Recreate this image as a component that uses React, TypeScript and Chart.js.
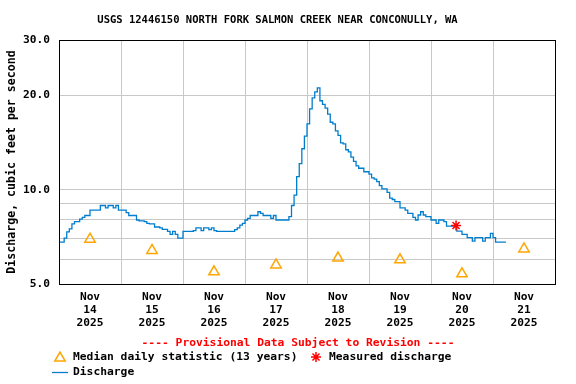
import React, { useEffect, useRef } from 'react';
import { Chart, registerables } from 'chart.js';

Chart.register(...registerables);

// ---- text ----
const titleText = 'USGS 12446150 NORTH FORK SALMON CREEK NEAR CONCONULLY, WA';
const yAxisTitle = 'Discharge, cubic feet per second';
const provisionalText = '---- Provisional Data Subject to Revision ----';
const medianLabel = 'Median daily statistic (13 years)';
const measuredLabel = 'Measured discharge';
const dischargeLabel = 'Discharge';

// ---- axes ----
const monthLabel = 'Nov';
const yearLabel = '2025';
const dayLabels = ['14', '15', '16', '17', '18', '19', '20', '21'];
const xTickHours = [0, 12, 24, 36, 48, 60, 72, 84, 96, 108, 120, 132, 144, 156, 168, 180, 192];
const yTickValues = [5, 6, 7, 8, 9, 10, 20, 30];
const yLabeledValues = [5, 10, 20, 30];

// ---- data (hours since Nov 14 2025 00:00) ----
// hourly discharge, cfs, starting at hour 0
const dischargeCfs = [
  6.6, 6.8, 6.8, 7.0, 7.33, 7.5, 7.77, 7.9, 7.9, 8.05, 8.15, 8.27,
  8.27, 8.6, 8.6, 8.6, 8.6, 8.9, 8.9, 8.75, 8.9, 8.9, 8.75, 8.9,
  8.6, 8.6, 8.6, 8.45, 8.27, 8.27, 8.27, 8.0, 7.95, 7.95, 7.9, 7.8,
  7.77, 7.77, 7.6, 7.6, 7.55, 7.47, 7.47, 7.36, 7.2, 7.36, 7.2, 7.0,
  7.0, 7.36, 7.36, 7.36, 7.36, 7.4, 7.55, 7.55, 7.4, 7.55, 7.55, 7.45,
  7.55, 7.4, 7.36, 7.36, 7.36, 7.36, 7.36, 7.36, 7.36, 7.45, 7.55, 7.7,
  7.8, 8.0, 8.1, 8.27, 8.27, 8.27, 8.5, 8.4, 8.27, 8.27, 8.27, 8.1,
  8.27, 8.0, 8.0, 8.0, 8.0, 8.0, 8.2, 8.9, 9.6, 11.0, 12.1, 13.5,
  14.8, 16.2, 18.1, 19.6, 20.5, 21.1, 19.2, 18.7, 18.2, 17.4, 16.4, 16.2,
  15.4, 14.9, 14.1, 14.0, 13.4, 13.2, 12.7, 12.3, 11.9, 11.7, 11.7, 11.4,
  11.4, 11.2, 10.9, 10.8, 10.6, 10.3, 10.05, 10.05, 9.8, 9.4, 9.3, 9.15,
  9.15, 8.75, 8.75, 8.6, 8.4, 8.4, 8.15, 8.0, 8.3, 8.5, 8.3, 8.2,
  8.2, 8.0, 8.0, 7.8, 8.0, 8.0, 7.9, 7.65, 7.65, 7.65, 7.65, 7.37,
  7.37, 7.2, 7.2, 7.03, 7.03, 6.85, 7.03, 7.03, 7.03, 6.85, 7.03, 7.03,
  7.25, 7.03, 6.8, 6.8, 6.8, 6.8,
];
const medianHours = [12, 36, 60, 84, 108, 132, 156, 180];
const medianCfs = [6.95, 6.4, 5.47, 5.75, 6.05, 5.97, 5.39, 6.47];
const measuredHours = [153.7];
const measuredCfs = [7.68];

// ---- styles ----
const MONO = '"DejaVu Sans Mono", "Liberation Mono", monospace';
const GRID = '#C8C8C8';
const BLUE = 'rgb(0,125,205)';
const ORANGE = '#FFA500';
const RED = '#FF0000';

function drawTriangle(ctx: CanvasRenderingContext2D, x: number, y: number, r: number) {
  ctx.beginPath();
  ctx.moveTo(x, y - r);
  ctx.lineTo(x + r * 0.866, y + r * 0.5);
  ctx.lineTo(x - r * 0.866, y + r * 0.5);
  ctx.closePath();
  ctx.stroke();
}

function drawStar(ctx: CanvasRenderingContext2D, x: number, y: number, r: number) {
  ctx.beginPath();
  for (let i = 0; i < 4; i++) {
    const a = (i * Math.PI) / 4;
    ctx.moveTo(x - Math.cos(a) * r, y - Math.sin(a) * r);
    ctx.lineTo(x + Math.cos(a) * r, y + Math.sin(a) * r);
  }
  ctx.stroke();
}

export default function App() {
  const ref = useRef<HTMLCanvasElement>(null);

  useEffect(() => {
    const canvas = ref.current;
    if (!canvas) return;

    const framePlugin = {
      id: 'frameAndLegend',
      afterDatasetsDraw(chart: any) {
        const { ctx, chartArea } = chart;
        const l = Math.round(chartArea.left);
        const t = Math.round(chartArea.top);
        const r = Math.round(chartArea.right);
        const b = Math.round(chartArea.bottom);
        ctx.save();
        ctx.strokeStyle = '#000';
        ctx.lineWidth = 1;
        ctx.strokeRect(l + 0.5, t + 0.5, r - l, b - t);
        ctx.restore();
      },
      afterDraw(chart: any) {
        const { ctx } = chart;
        ctx.save();
        ctx.font = `bold 11.3px ${MONO}`;
        ctx.textBaseline = 'middle';
        ctx.textAlign = 'center';
        ctx.fillStyle = RED;
        ctx.fillText(provisionalText, 298, 343);

        ctx.textAlign = 'left';
        ctx.fillStyle = '#000';
        ctx.fillText(medianLabel, 73, 357);
        ctx.fillText(measuredLabel, 329, 357);
        ctx.fillText(dischargeLabel, 73, 372.5);

        ctx.lineWidth = 1.5;
        ctx.strokeStyle = ORANGE;
        drawTriangle(ctx, 60, 358, 6);
        ctx.strokeStyle = RED;
        drawStar(ctx, 316, 357, 5);
        ctx.strokeStyle = BLUE;
        ctx.lineWidth = 1.3;
        ctx.beginPath();
        ctx.moveTo(52, 372.5);
        ctx.lineTo(68, 372.5);
        ctx.stroke();
        ctx.restore();
      },
    };

    const tickFont = { family: MONO, weight: 'bold' as const, size: 11.2, lineHeight: 13 / 11.2 };

    const chart = new Chart(canvas, {
      type: 'line',
      data: {
        datasets: [
          {
            label: measuredLabel,
            data: measuredHours.map((h, i) => ({ x: h, y: measuredCfs[i] })),
            showLine: false,
            pointStyle: 'star',
            pointRadius: 5,
            borderColor: RED,
            backgroundColor: RED,
            pointBorderWidth: 1.5,
          },
          {
            label: medianLabel,
            data: medianHours.map((h, i) => ({ x: h, y: medianCfs[i] })),
            showLine: false,
            pointStyle: 'triangle',
            pointRadius: 6,
            borderColor: ORANGE,
            backgroundColor: 'rgba(0,0,0,0)',
            pointBorderWidth: 1.5,
          },
          {
            label: dischargeLabel,
            data: dischargeCfs.map((v, i) => ({ x: i, y: v })),
            borderColor: BLUE,
            borderWidth: 1.3,
            pointRadius: 0,
            stepped: 'after',
            fill: false,
          },
        ],
      },
      options: {
        animation: false,
        responsive: false,
        devicePixelRatio: 1,
        layout: { padding: { left: 0, right: 21, top: 0, bottom: 0 } },
        plugins: {
          legend: { display: false },
          tooltip: { enabled: false },
          title: {
            display: true,
            text: titleText,
            color: '#000',
            font: { family: MONO, weight: 'bold', size: 10.5, lineHeight: 1.2 },
            padding: { top: 14, bottom: 13.4 },
          },
        },
        scales: {
          x: {
            type: 'linear',
            min: 0,
            max: 192,
            afterBuildTicks: (s: any) => {
              s.ticks = xTickHours.map((v) => ({ value: v }));
            },
            afterFit: (s: any) => {
              s.height = 100;
            },
            grid: {
              color: (c: any) => (c.tick && c.tick.value % 24 === 0 ? GRID : 'rgba(0,0,0,0)'),
              drawTicks: false,
              lineWidth: 1,
            },
            border: { display: false },
            ticks: {
              autoSkip: false,
              maxRotation: 0,
              minRotation: 0,
              padding: 7,
              color: '#000',
              font: tickFont,
              callback: (value: any) => {
                const v = Number(value);
                if (v % 24 !== 12) return '';
                const idx = (v - 12) / 24;
                return [monthLabel, dayLabels[idx], yearLabel];
              },
            },
          },
          y: {
            type: 'logarithmic',
            min: 5,
            max: 30,
            afterBuildTicks: (s: any) => {
              s.ticks = yTickValues.map((v) => ({ value: v }));
            },
            afterFit: (s: any) => {
              s.width = 59;
            },
            grid: {
              color: (c: any) =>
                c.tick && c.tick.value !== 5 && c.tick.value !== 30 ? GRID : 'rgba(0,0,0,0)',
              drawTicks: false,
              lineWidth: 1,
            },
            border: { display: false },
            ticks: {
              autoSkip: false,
              padding: 9,
              color: '#000',
              font: tickFont,
              callback: (value: any) => {
                const v = Number(value);
                return yLabeledValues.includes(v) ? v.toFixed(1) : '';
              },
            },
            title: {
              display: true,
              text: yAxisTitle,
              color: '#000',
              font: { family: MONO, weight: 'bold', size: 11.6, lineHeight: 1.2 },
              padding: { top: 5, bottom: 0 },
            },
          },
        },
      },
      plugins: [framePlugin],
    } as any);

    return () => chart.destroy();
  }, []);

  return (
    <div style={{ position: 'absolute', left: 0, top: 0, width: 576, height: 384, background: '#fff' }}>
      <canvas ref={ref} width={576} height={384} style={{ display: 'block', width: 576, height: 384 }} />
    </div>
  );
}
